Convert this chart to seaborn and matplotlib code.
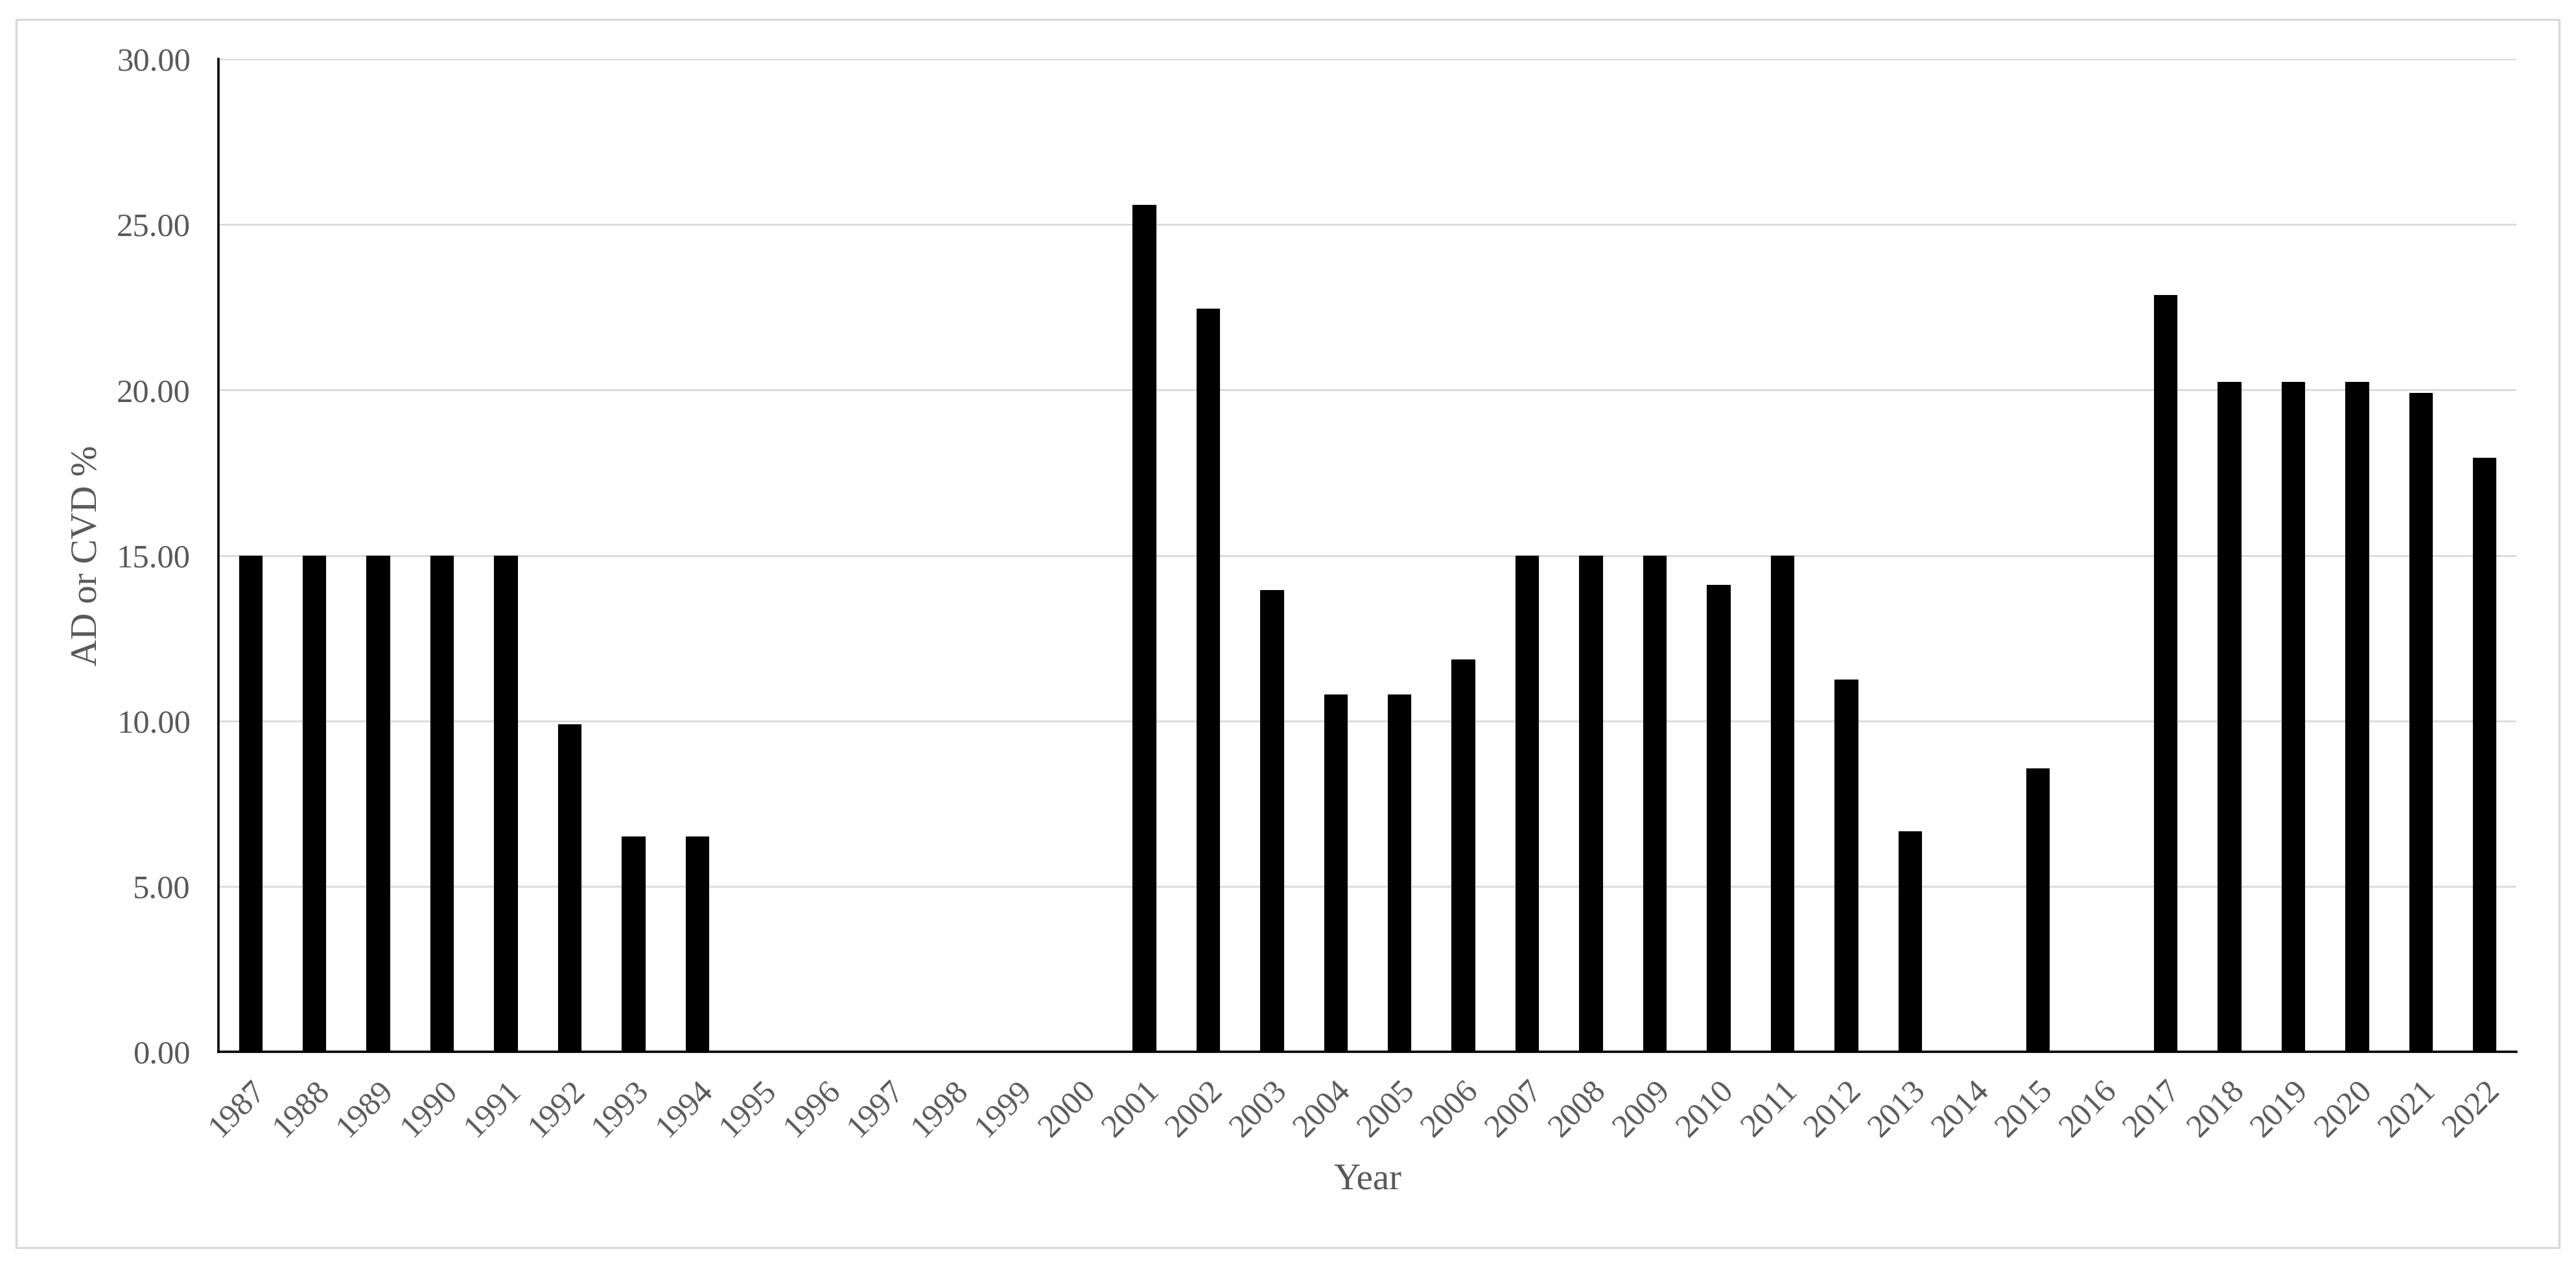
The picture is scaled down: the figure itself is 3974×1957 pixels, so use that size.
import matplotlib
matplotlib.use("Agg")
import matplotlib.pyplot as plt
import seaborn as sns
import pandas as pd
from matplotlib.patches import Rectangle
from matplotlib.ticker import FuncFormatter, MultipleLocator

years = [str(y) for y in range(1987, 2023)]
values = [15.0, 15.0, 15.0, 15.0, 15.0, 9.9, 6.5, 6.5,
          0, 0, 0, 0, 0, 0,
          25.6, 22.45, 13.95, 10.8, 10.8, 11.85, 15.0, 15.0, 15.0, 14.1, 15.0,
          11.25, 6.67, 0, 8.57, 0,
          22.87, 20.24, 20.24, 20.24, 19.9, 17.94]
y_label = "AD or CVD %"
x_label = "Year"

df = pd.DataFrame({"Year": years, "Value": values})

sns.set_theme(style="white")
plt.rcParams['font.family'] = ['Liberation Serif', 'DejaVu Serif']

W, H = 3974, 1957
fig = plt.figure(figsize=(W / 100, H / 100), dpi=100)
ax = fig.add_axes([337 / W, 1 - 1622 / H, (3882 - 337) / W, (1622 - 91) / H])

sns.barplot(data=df, x="Year", y="Value", color="black", width=0.36,
            edgecolor="black", linewidth=0.8, saturation=1, ax=ax)

ax.set_ylim(0, 30)
ax.set_xlim(-0.5, len(years) - 0.5)
ax.yaxis.set_major_locator(MultipleLocator(5))
ax.yaxis.set_major_formatter(FuncFormatter(lambda v, p: f"{v:.2f}"))
ax.set_axisbelow(True)
ax.yaxis.grid(True, color="#d9d9d9", linewidth=2)
ax.xaxis.grid(False)

for s in ["top", "right"]:
    ax.spines[s].set_visible(False)
for s in ["left", "bottom"]:
    ax.spines[s].set_color("black")
    ax.spines[s].set_linewidth(2.6)

ax.tick_params(axis="y", length=0, pad=31, labelsize=36.5, labelcolor="#595959")
ax.tick_params(axis="x", length=0, pad=26, labelsize=36.5, labelcolor="#595959")
for lbl in ax.get_xticklabels():
    lbl.set_rotation(45)
    lbl.set_ha("right")
    lbl.set_rotation_mode("anchor")

ax.set_ylabel(y_label, fontsize=41, color="#595959", labelpad=14)
ax.set_xlabel(x_label, fontsize=41, color="#595959", labelpad=22)

fig.patches.append(Rectangle((25 / W, 1 - 1924 / H), (3948 - 25) / W, (1924 - 30) / H,
                             transform=fig.transFigure, fill=False,
                             edgecolor="#d9d9d9", linewidth=2.5))

fig.savefig("out.png", dpi=100, facecolor="white")
